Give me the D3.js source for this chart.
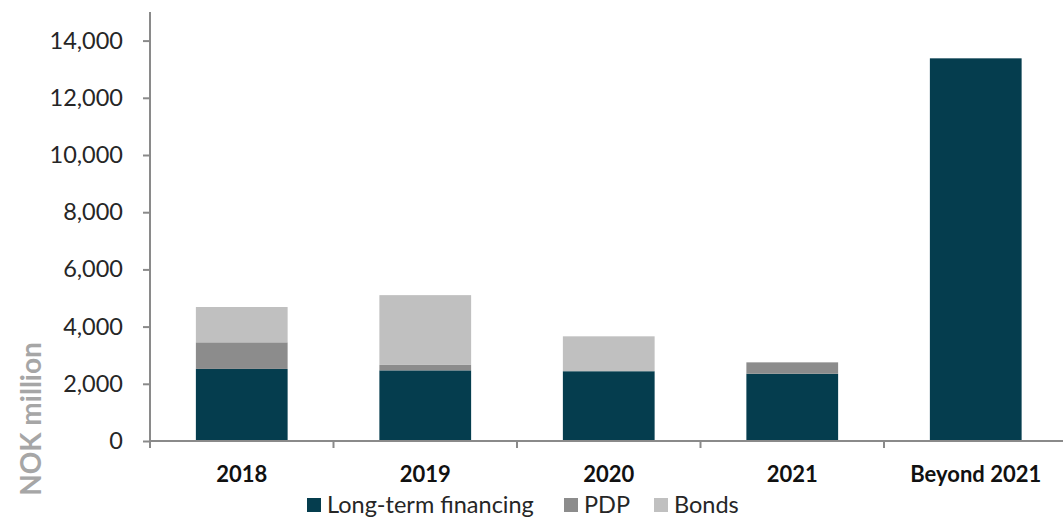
<!DOCTYPE html>
<html>
<head>
<meta charset="utf-8">
<script src="https://cdn.jsdelivr.net/npm/d3@7"></script>
<style>
  html, body { margin: 0; padding: 0; background: #fff; }
  svg { display: block; font-family: Lato, "Open Sans", sans-serif; }
</style>
</head>
<body>
<svg id="chart" width="1063" height="519"></svg>
<script>
// Debt maturity profile, NOK million
const categories = ["2018", "2019", "2020", "2021", "Beyond 2021"];
const seriesNames = ["Long-term financing", "PDP", "Bonds"];
const longTermFinancing = [2520, 2470, 2440, 2350, 13380];
const pdp = [930, 190, 0, 400, 0];
const bonds = [1235, 2440, 1220, 0, 0];
const yTicks = [0, 2000, 4000, 6000, 8000, 10000, 12000, 14000];
const colors = ["#053d4e", "#8c8c8c", "#c0c0c0"];

const svg = d3.select("#chart");
const plotLeft = 150, plotBottom = 441, plotTop = 12;

const rows = categories.map((c, i) => ({
  cat: c,
  "Long-term financing": longTermFinancing[i],
  "PDP": pdp[i],
  "Bonds": bonds[i]
}));
const stacked = d3.stack().keys(seriesNames)(rows);

const x = d3.scaleBand()
  .domain(categories)
  .range([plotLeft, plotLeft + 5 * 183.5])
  .paddingInner(0.5)
  .paddingOuter(0.25);

const y = d3.scaleLinear().domain([0, 15000]).range([plotBottom, plotTop]);

// bars
svg.append("g").selectAll("g")
  .data(stacked)
  .join("g")
  .attr("fill", (d, i) => colors[i])
  .selectAll("rect")
  .data(d => d.filter(s => s[1] - s[0] > 0))
  .join("rect")
  .attr("x", d => x(d.data.cat))
  .attr("width", x.bandwidth())
  .attr("y", d => y(d[1]))
  .attr("height", d => y(d[0]) - y(d[1]));

// y axis
const yAxis = svg.append("g")
  .attr("transform", `translate(${plotLeft},0)`)
  .call(d3.axisLeft(y).tickValues(yTicks).tickSize(7).tickPadding(20)
    .tickFormat(d3.format(",")).tickSizeOuter(0));
yAxis.select(".domain").attr("stroke", "#8a8a8a").attr("stroke-width", 2)
  .attr("d", `M0,${plotTop}V${plotBottom + 7}`);
yAxis.selectAll(".tick line").attr("stroke", "#8a8a8a").attr("stroke-width", 2);
yAxis.selectAll(".tick text")
  .attr("fill", "#262626")
  .style("font-size", "23.5px")
  .style("font-family", "Lato, sans-serif");

// x axis baseline and category boundary ticks
const step = x.step();
const xg = svg.append("g");
xg.append("line")
  .attr("x1", plotLeft).attr("x2", 1063)
  .attr("y1", plotBottom).attr("y2", plotBottom)
  .attr("stroke", "#8a8a8a").attr("stroke-width", 2);
xg.selectAll("line.bound")
  .data(categories.slice(1))
  .join("line")
  .attr("class", "bound")
  .attr("x1", d => x(d) - step * x.paddingInner() / 2)
  .attr("x2", d => x(d) - step * x.paddingInner() / 2)
  .attr("y1", plotBottom).attr("y2", plotBottom + 7)
  .attr("stroke", "#8a8a8a").attr("stroke-width", 2);

const xAxis = svg.append("g")
  .attr("transform", `translate(0,${plotBottom})`)
  .call(d3.axisBottom(x).tickSize(0).tickPadding(25));
xAxis.select(".domain").remove();
xAxis.selectAll(".tick text")
  .attr("fill", "#111")
  .style("font-size", "22px")
  .style("font-weight", "bold")
  .style("font-family", "Lato, sans-serif");

// y axis title
svg.append("text")
  .attr("transform", "translate(41,419) rotate(-90)")
  .attr("text-anchor", "middle")
  .attr("fill", "#a6a6a6")
  .style("font-size", "28px")
  .style("font-weight", "bold")
  .text("NOK million");

// legend
const legendX = [307, 564, 654];
const legend = svg.append("g").selectAll("g")
  .data(seriesNames)
  .join("g")
  .attr("transform", (d, i) => `translate(${legendX[i]},498)`);
legend.append("rect")
  .attr("width", 14).attr("height", 14)
  .attr("fill", (d, i) => colors[i]);
legend.append("text")
  .attr("x", 20).attr("y", 15)
  .attr("fill", "#262626")
  .style("font-size", "23.5px")
  .text(d => d);
</script>
</body>
</html>
